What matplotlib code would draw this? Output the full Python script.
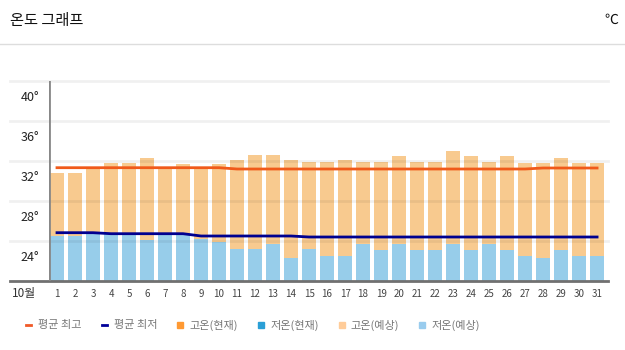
import matplotlib
matplotlib.use('Agg')
import matplotlib.pyplot as plt
import matplotlib.transforms as mtransforms
from matplotlib.lines import Line2D

plt.rcParams['font.family'] = ['Noto Sans CJK KR', 'DejaVu Sans']

## data (October, forecast bars + monthly averages)
days = list(range(1, 32))
high_fc = [30.8, 30.8, 31.2, 31.8, 31.8, 32.3, 31.2, 31.7, 31.3, 31.7,
           32.1, 32.6, 32.6, 32.1, 31.9, 31.9, 32.1, 31.9, 31.9, 32.5,
           31.9, 31.9, 33.0, 32.5, 31.9, 32.5, 31.8, 31.8, 32.3, 31.8, 31.8]
low_fc = [24.5, 24.5, 24.7, 24.7, 24.7, 24.1, 24.7, 24.6, 24.2, 23.9,
          23.2, 23.2, 23.7, 22.3, 23.2, 22.5, 22.5, 23.7, 23.1, 23.7,
          23.1, 23.1, 23.7, 23.1, 23.7, 23.1, 22.5, 22.3, 23.1, 22.5, 22.5]
avg_high = [31.3] * 10 + [31.17] * 17 + [31.27] * 4
avg_low = [24.8] * 3 + [24.7] * 5 + [24.47] * 6 + [24.37] * 17
y_ticks = [24, 28, 32, 36, 40]
legend_labels = ['평균 최고', '평균 최저', '고온(현재)', '저온(현재)', '고온(예상)', '저온(예상)']

fig = plt.figure(figsize=(6.25, 3.5), dpi=100)
W, H = 625, 350
ax = fig.add_axes([49 / W, 1 - 280.7 / H, (607.7 - 49) / W, 200 / H])

ax.bar(days, [h - 20 for h in high_fc], bottom=20, width=0.78, color='#F8CA8F', zorder=2)
ax.bar(days, [l - 20 for l in low_fc], bottom=20, width=0.78, color='#97CDEA', zorder=2)

# grid lines stretch left past the axis like the original
for v in y_ticks:
    ax.axhline(v, xmin=-0.07, xmax=1, color='black', alpha=0.06, lw=2, clip_on=False, zorder=3)

ax.plot(days, avg_high, color='#F05A1A', lw=2, zorder=4)
ax.plot(days, avg_low, color='#000090', lw=2, zorder=4)

ax.set_xlim(0.556, 31.59)
ax.set_ylim(20, 40)
for s in ax.spines.values():
    s.set_visible(False)
ax.axhline(20, xmin=-0.07, xmax=1, color='#707070', lw=2, clip_on=False, zorder=5)
ax.axvline(ax.get_xlim()[0], color='#888888', lw=2, zorder=5)

ax.set_xticks(days)
ax.set_xticklabels([str(d) for d in days], fontsize=7, color='#444444')
ax.set_yticks(y_ticks)
ax.set_yticklabels([f'{v}°' for v in y_ticks], fontsize=9, color='#222222')
ax.tick_params(length=0)
ax.tick_params(axis='x', pad=6)
ax.tick_params(axis='y', pad=7)
# labels sit under their grid line
shift = mtransforms.ScaledTranslation(0, -15 / 100, fig.dpi_scale_trans)
for lab in ax.get_yticklabels():
    lab.set_transform(lab.get_transform() + shift)

fig.text(24 / W, 1 - 293 / H, '10월', fontsize=8.5, color='#333333', ha='center', va='center')

# header
fig.text(10 / W, 1 - 21 / H, '온도 그래프', fontsize=11, color='#111111', va='center')
fig.text(618 / W, 1 - 20 / H, '℃', fontsize=10, color='#111111', va='center', ha='right')
fig.add_artist(Line2D([0, 1], [1 - 44 / H, 1 - 44 / H], color='#DDDDDD', lw=1))

handles = [
    Line2D([], [], color='#F05A28', lw=2),
    Line2D([], [], color='#000099', lw=2),
    Line2D([], [], ls='', marker='s', ms=5, color='#FF9933'),
    Line2D([], [], ls='', marker='s', ms=5, color='#2A9FD6'),
    Line2D([], [], ls='', marker='s', ms=5, color='#FFCC99'),
    Line2D([], [], ls='', marker='s', ms=5, color='#99CCEE'),
]
leg = fig.legend(handles, legend_labels, loc='center', bbox_to_anchor=(253 / W, 1 - 325 / H),
                 ncol=6, frameon=False, fontsize=8, handlelength=0.5, handletextpad=0.6,
                 columnspacing=1.8, borderpad=0)
for t in leg.get_texts():
    t.set_color('#777777')

fig.savefig('out.png', dpi=100)
